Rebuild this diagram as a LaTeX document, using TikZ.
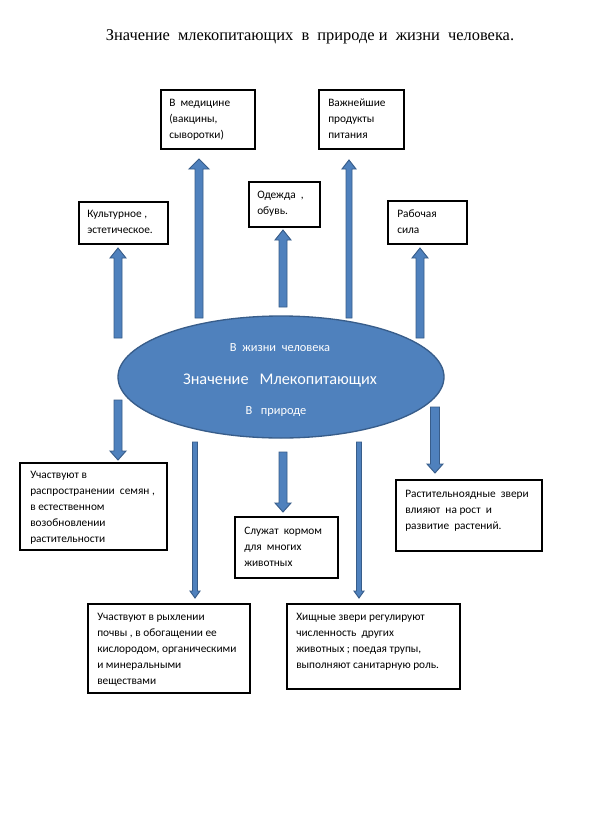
\documentclass[tikz,border=0pt]{standalone}
\usepackage{fontspec}
\setmainfont{Liberation Serif}
\newfontfamily\calf{Carlito}
\usetikzlibrary{shapes.geometric,fit}
\definecolor{bfill}{HTML}{4F81BD}
\definecolor{bline}{HTML}{385D8A}
\tikzset{
  boxnode/.style={draw=black,line width=1pt,inner sep=0pt,fit={#1}},
  txt/.style={anchor=north west,inner sep=0pt,align=left,font=\calf\fontsize{8.5}{12}\selectfont},
  ell/.style={ellipse,draw=bline,line width=1pt,fill=bfill},
  barr/.style={draw=bline,line width=0.7pt,fill=bfill,line join=miter},
  wtxt/.style={text=white,inner sep=0pt,font=\calf\fontsize{9.3}{10}\selectfont}
}
\newcommand{\barrowup}[6]{%
  \draw[barr] ({#1-#4},#2) -- ({#1-#4},{#3+#6}) -- ({#1-#5},{#3+#6}) -- (#1,#3) -- ({#1+#5},{#3+#6}) -- ({#1+#4},{#3+#6}) -- ({#1+#4},#2) -- cycle;}
\newcommand{\barrowdn}[6]{%
  \draw[barr] ({#1-#4},#2) -- ({#1-#4},{#3-#6}) -- ({#1-#5},{#3-#6}) -- (#1,#3) -- ({#1+#5},{#3-#6}) -- ({#1+#4},{#3-#6}) -- ({#1+#4},#2) -- cycle;}
\begin{document}
\begin{tikzpicture}[x=0.75pt,y=-0.75pt]
\useasboundingbox (0,0) rectangle (600,814);
\fill[white] (0,0) rectangle (600,814);
% title
\node[inner sep=0pt,font=\fontsize{12.3}{14}\selectfont] (title) at (310,37) {Значение~ млекопитающих~ в~ природе и~ жизни~ человека.};
% ellipse
\node[ell,minimum width=326*0.75pt,minimum height=122*0.75pt] (E) at (281,377) {};
\node[wtxt] (E1) at (280,348) {В~ жизни~ человека};
\node[wtxt,font=\calf\fontsize{12.2}{13}\selectfont] (E2) at (280,381) {Значение~~ Млекопитающих};
\node[wtxt] (E3) at (276,412) {В~~ природе};
% top boxes
\node[boxnode={(161,90) (255,149)}] (med) {};
\node[txt] (medt) at (169,99) {В~ медицине\\(вакцины,\\сыворотки)};
\node[boxnode={(319,90) (404,149)}] (food) {};
\node[txt] (foodt) at (328,99) {Важнейшие\\продукты\\питания};
\node[boxnode={(249,182) (320,227)}] (cloth) {};
\node[txt] (clotht) at (257,191) {Одежда~ ,\\обувь.};
\node[boxnode={(79,202) (168,244)}] (cult) {};
\node[txt] (cultt) at (87,210) {Культурное ,\\эстетическое.};
\node[boxnode={(388,201) (467,244)}] (work) {};
\node[txt] (workt) at (397,210) {Рабочая\\сила};
% bottom boxes
\node[boxnode={(20,463) (167,550)}] (seed) {};
\node[txt] (seedt) at (30,471) {Участвуют в\\распространении~ семян ,\\в естественном\\возобновлении\\растительности};
\node[boxnode={(235,517) (338,578)}] (feed) {};
\node[txt] (feedt) at (244,527) {Служат~ кормом\\для~ многих\\животных};
\node[boxnode={(396,480) (542,551)}] (herb) {};
\node[txt] (herbt) at (405,490) {Растительноядные~ звери\\влияют~ на рост~ и\\развитие~ растений.};
\node[boxnode={(88,604) (250,693)}] (soil) {};
\node[txt] (soilt) at (97,613) {Участвуют в рыхлении\\почвы , в обогащении ее\\кислородом, органическими\\и минеральными\\веществами};
\node[boxnode={(287,604) (460,689)}] (pred) {};
\node[txt] (predt) at (296,613) {Хищные звери регулируют\\численность~ других\\животных ; поедая трупы,\\выполняют санитарную роль.};
% arrows up
\barrowup{118}{338}{248}{4}{8}{10}
\barrowup{199}{318}{159}{4}{10}{10}
\barrowup{283}{307}{230}{4}{8}{10}
\barrowup{349}{318}{160}{3}{7}{9}
\barrowup{420}{338}{248}{4}{8}{10}
% arrows down
\barrowdn{118}{400}{460}{4}{8}{9}
\barrowdn{195}{442}{598}{2.5}{5}{7}
\barrowdn{283}{452}{512}{4}{8}{9}
\barrowdn{359}{442}{598}{2.5}{5}{7}
\barrowdn{435}{407}{473}{4.5}{8}{9}
\end{tikzpicture}
\end{document}
